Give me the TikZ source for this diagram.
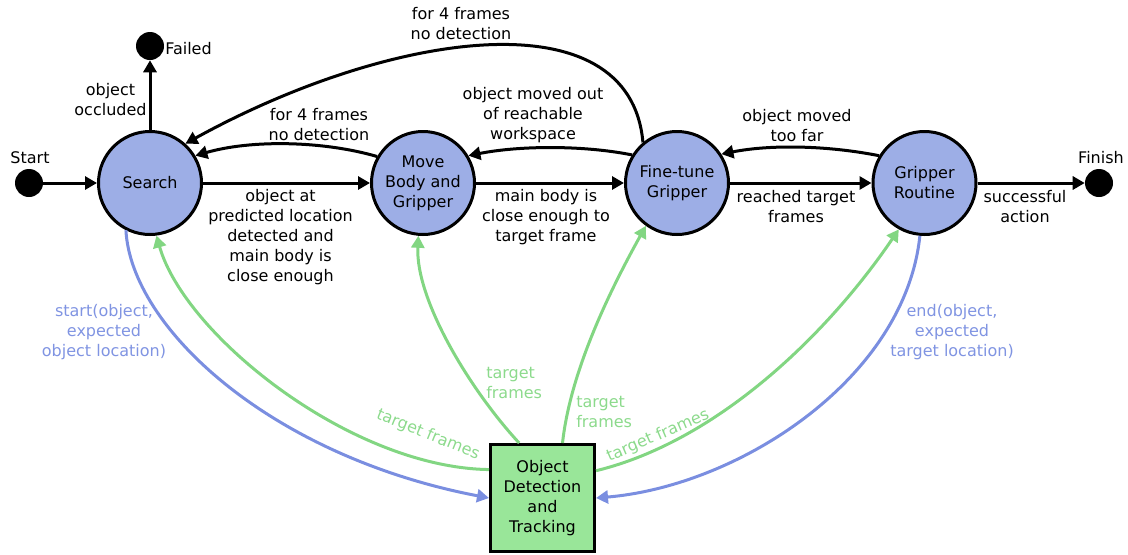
\documentclass[tikz,border=0pt]{standalone}
\usepackage{fontspec}
\setmainfont{DejaVu Sans}
\usetikzlibrary{arrows.meta}

\definecolor{statefill}{RGB}{157,174,230}
\definecolor{detfill}{RGB}{153,230,153}
\definecolor{blueline}{RGB}{122,142,224}
\definecolor{bluetext}{RGB}{128,148,226}
\definecolor{greenline}{RGB}{130,214,130}
\definecolor{greentext}{RGB}{140,218,140}

\begin{document}
\begin{tikzpicture}[x=0.75pt,y=0.75pt,
  font=\fontsize{12}{15}\selectfont,
  state/.style={circle,draw=black,line width=2.25pt,fill=statefill,
    minimum size=77.25pt,inner sep=0pt,align=center},
  detbox/.style={rectangle,draw=black,line width=2.25pt,fill=detfill,
    minimum width=78pt,minimum height=80.25pt,inner sep=0pt,align=center},
  dot/.style={circle,fill=black,minimum size=21pt,inner sep=0pt},
  lbl/.style={align=center,inner sep=0pt},
  tr/.style={-{Triangle[length=9pt,width=9.75pt]},line width=2.25pt},
  bluearrow/.style={tr,draw=blueline},
  greenarrow/.style={tr,draw=greenline},
]
\useasboundingbox (0,0) rectangle (1128,-554);

% states
\node[dot] (start) at (29,-183) {};
\node[dot] (failed) at (150,-46) {};
\node[dot] (finish) at (1099,-183) {};
\node[state] (search) at (150,-183) {Search};
\node[state] (move) at (423,-183) {Move\\Body and\\Gripper};
\node[state] (fine) at (677,-183) {Fine-tune\\Gripper};
\node[state] (grip) at (924.5,-183) {Gripper\\Routine};
\node[detbox] (det) at (542.5,-498) {Object\\Detection\\and\\Tracking};

% terminal labels
\node[lbl] (lstart) at (30,-158) {Start};
\node[lbl] (lfailed) at (188.5,-49) {Failed};
\node[lbl] (lfinish) at (1101,-158) {Finish};

% main transitions
\draw[tr] (start) -- (search);
\draw[tr] (search) -- (failed);
\draw[tr] (search) -- (move);
\draw[tr] (move) -- (fine);
\draw[tr] (fine) -- (grip);
\draw[tr] (grip) -- (finish);

% fall-back transitions
\draw[tr] (move.150) .. controls +(-55,16) and +(55,16) .. (search.31);
\draw[tr] (fine.148) .. controls +(-50,10) and +(50,10) .. (move.31);
\draw[tr] (grip.149) .. controls +(-50,10) and +(50,10) .. (fine.33);
\draw[tr] (fine.130) .. controls +(-13,148) and +(203,112) .. (search.48);

% transition labels
\node[lbl] (loccl) at (110.5,-99.5) {object\\occluded};
\node[lbl] (lnodet1) at (319,-124.5) {for 4 frames\\no detection};
\node[lbl] (lfound) at (280.5,-237) {object at\\predicted location\\detected and\\main body is\\close enough};
\node[lbl] (lout) at (533,-115) {object moved out\\of reachable\\workspace};
\node[lbl] (lclose) at (546,-217) {main body is\\close enough to\\target frame};
\node[lbl] (lnodet2) at (461,-24) {for 4 frames\\no detection};
\node[lbl] (lfar) at (797,-126) {object moved\\too far};
\node[lbl] (lreached) at (796,-206.5) {reached target\\frames};
\node[lbl] (lsuccess) at (1025,-206.5) {successful\\action};

% tracker calls
\draw[bluearrow] (search.243) .. controls +(5,-97) and +(-219,42) .. (det.west);
\draw[bluearrow] (grip.265) .. controls +(-15,-143) and +(143,12) .. (det.east);
\node[lbl,text=bluetext] (lstartcall) at (104,-332) {start(object,\\expected\\object location)};
\node[lbl,text=bluetext] (lendcall) at (952,-332) {end(object,\\expected\\target location)};

% tracker feedback
\draw[greenarrow] (det.152) .. controls +(-139,2) and +(28,-99) .. (search.277);
\draw[greenarrow] (det.113) .. controls +(-49,53) and +(-3,-64) .. (move.265);
\draw[greenarrow] (det.70) .. controls +(8,73) and +(-35,-63) .. (fine.234);
\draw[greenarrow] (det.27) .. controls +(123,30) and +(-70,-103) .. (grip.241);
\node[lbl,text=greentext,rotate=-22] (ltf1) at (428,-435) {target frames};
\node[lbl,text=greentext,align=left,anchor=west] (ltf2) at (486,-383) {target\\frames};
\node[lbl,text=greentext,align=left,anchor=west] (ltf3) at (576,-412) {target\\frames};
\node[lbl,text=greentext,rotate=23] (ltf4) at (658,-436) {target frames};
\end{tikzpicture}
\end{document}
